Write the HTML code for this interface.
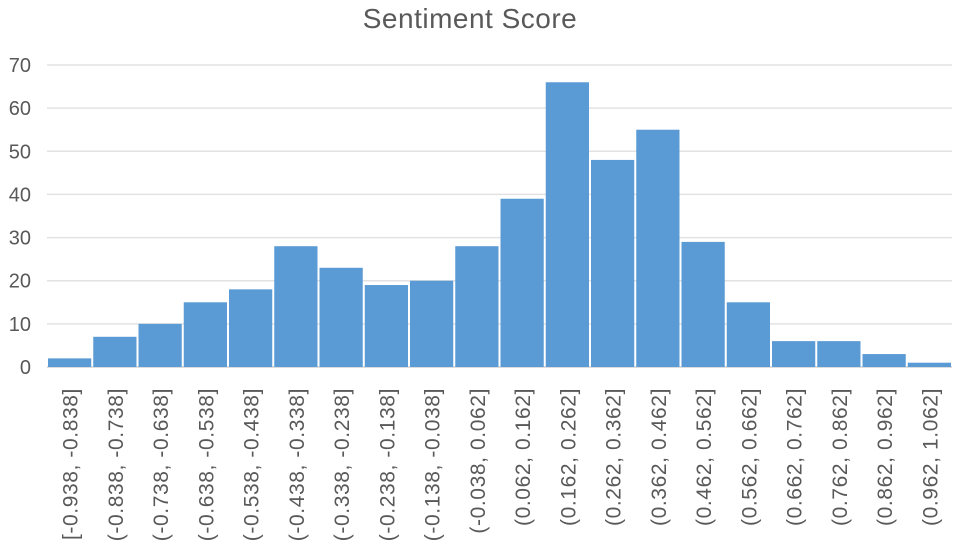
<!DOCTYPE html>
<html><head><meta charset="utf-8"><style>
body{margin:0;background:#fff;}
svg{display:block;font-family:"Liberation Sans",sans-serif;}
</style></head><body>
<svg id="chart" width="960" height="544" viewBox="0 0 960 544">
<text x="470" y="28" font-size="28" fill="#595959" text-anchor="middle" letter-spacing="0.5">Sentiment Score</text>
<g id="grid"></g><g id="bars"></g><g id="ylabels"></g><g id="xlabels"></g>
</svg>
<script>
const categories=["[-0.938, -0.838]","(-0.838, -0.738]","(-0.738, -0.638]","(-0.638, -0.538]","(-0.538, -0.438]","(-0.438, -0.338]","(-0.338, -0.238]","(-0.238, -0.138]","(-0.138, -0.038]","(-0.038, 0.062]","(0.062, 0.162]","(0.162, 0.262]","(0.262, 0.362]","(0.362, 0.462]","(0.462, 0.562]","(0.562, 0.662]","(0.662, 0.762]","(0.762, 0.862]","(0.862, 0.962]","(0.962, 1.062]"];
const counts=[2,7,10,15,18,28,23,19,20,28,39,66,48,55,29,15,6,6,3,1];
const yTicks=[0,10,20,30,40,50,60,70];
const NS="http://www.w3.org/2000/svg";
const x0=47,x1=952,yBase=367,yTop=65,yMax=70;
const y=v=>yBase-(v/yMax)*(yBase-yTop);
const bw=(x1-x0)/categories.length;
const xb=i=>x0+i*bw;
function mk(t,a,p){const e=document.createElementNS(NS,t);for(const k in a)e.setAttribute(k,a[k]);p.appendChild(e);return e;}
const g=document.getElementById('grid'),b=document.getElementById('bars'),yl=document.getElementById('ylabels'),xl=document.getElementById('xlabels');
yTicks.forEach(t=>{
 const l=mk('line',{x1:x0,x2:x1,y1:y(t),y2:y(t),stroke:t===0?'#d0d0d0':'#e2e2e2','stroke-width':1.5},g);
 
 
 const tx=mk('text',{x:31,y:y(t)+7,'font-size':20,fill:'#595959','text-anchor':'end'},yl);
 tx.textContent=t;
 
 
});
counts.forEach((v,i)=>{
 const r=mk('rect',{x:xb(i)+1,y:y(v),width:bw-2,height:yBase-y(v),fill:'#5b9bd5'},b);
 
 
 const cx=xb(i)+bw/2+8;
 const tx=mk('text',{x:0,y:0,'font-size':21,fill:'#595959','text-anchor':'end','letter-spacing':'0.6',transform:`translate(${cx},388) rotate(-90)`},xl);
 tx.textContent=categories[i];
 
 
});
</script>
</body></html>
